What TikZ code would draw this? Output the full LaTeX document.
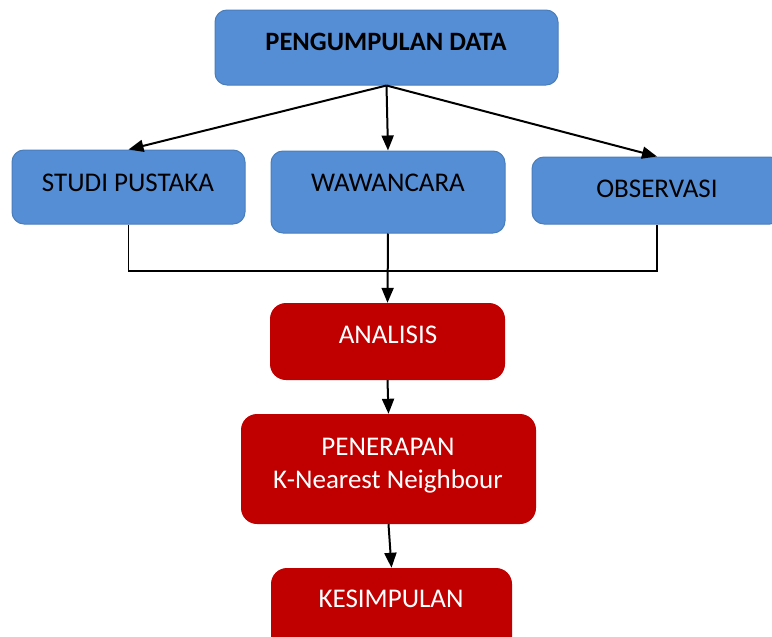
\documentclass[tikz,border=0pt]{standalone}
\usepackage{fontspec}
\setmainfont{Carlito}
\usetikzlibrary{arrows.meta}
\definecolor{boxblue}{HTML}{558ED5}
\definecolor{edgeblue}{HTML}{4A7EBB}
\definecolor{boxred}{HTML}{C00000}
\begin{document}
\begin{tikzpicture}[x=1pt,y=-1pt,
  bluebox/.style={draw=edgeblue,line width=1pt,fill=boxblue,rounded corners=12pt,inner sep=0pt},
  redbox/.style={fill=boxred,rounded corners=16pt,inner sep=0pt},
  lbl/.style={font=\fontsize{27}{33}\selectfont,inner sep=0pt,align=center},
  arr/.style={line width=2pt,-{Triangle[length=15pt,width=12pt]}}]
\useasboundingbox (0,0) rectangle (772,637);
\clip (0,0) rectangle (772,637);

\node[bluebox,minimum width=343pt,minimum height=75pt] (data) at (386.5,47.5) {};
\node[bluebox,minimum width=233pt,minimum height=74pt] (studi) at (128.5,187) {};
\node[bluebox,minimum width=234pt,minimum height=82pt] (wawan) at (388,192) {};
\node[bluebox,minimum width=250pt,minimum height=67pt] (obs) at (657,190.5) {};
\node[redbox,minimum width=235pt,minimum height=77pt] (anal) at (387.5,341.5) {};
\node[redbox,minimum width=295pt,minimum height=110pt] (knn) at (388.5,469) {};
\node[redbox,minimum width=241pt,minimum height=100pt] (simp) at (391.5,618) {};

\node[lbl,font=\fontsize{26.5}{30}\selectfont\bfseries] (dataT) at (386,42) {PENGUMPULAN DATA};
\node[lbl] (studiT) at (128,183) {STUDI PUSTAKA};
\node[lbl] (wawanT) at (388,183) {WAWANCARA};
\node[lbl] (obsT) at (657,189) {OBSERVASI};
\node[lbl,text=white] (analT) at (388,335) {ANALISIS};
\node[lbl,text=white] (knnT) at (388,466) {PENERAPAN\\K-Nearest Neighbour};
\node[lbl,text=white] (simpT) at (391,599) {KESIMPULAN};

\draw[arr] (data.south) -- (studi.north);
\draw[arr] (data.south) -- (wawan.north);
\draw[arr] (data.south) -- (obs.north);

\coordinate (join) at (388,271);
\draw[line width=1.5pt] (studi.south) |- (join) -| (obs.south);
\draw[arr] (wawan.south) -- (anal.north);
\draw[arr] (anal.south) -- (knn.north);
\draw[arr] (knn.south) -- (simp.north);

\end{tikzpicture}
\end{document}
